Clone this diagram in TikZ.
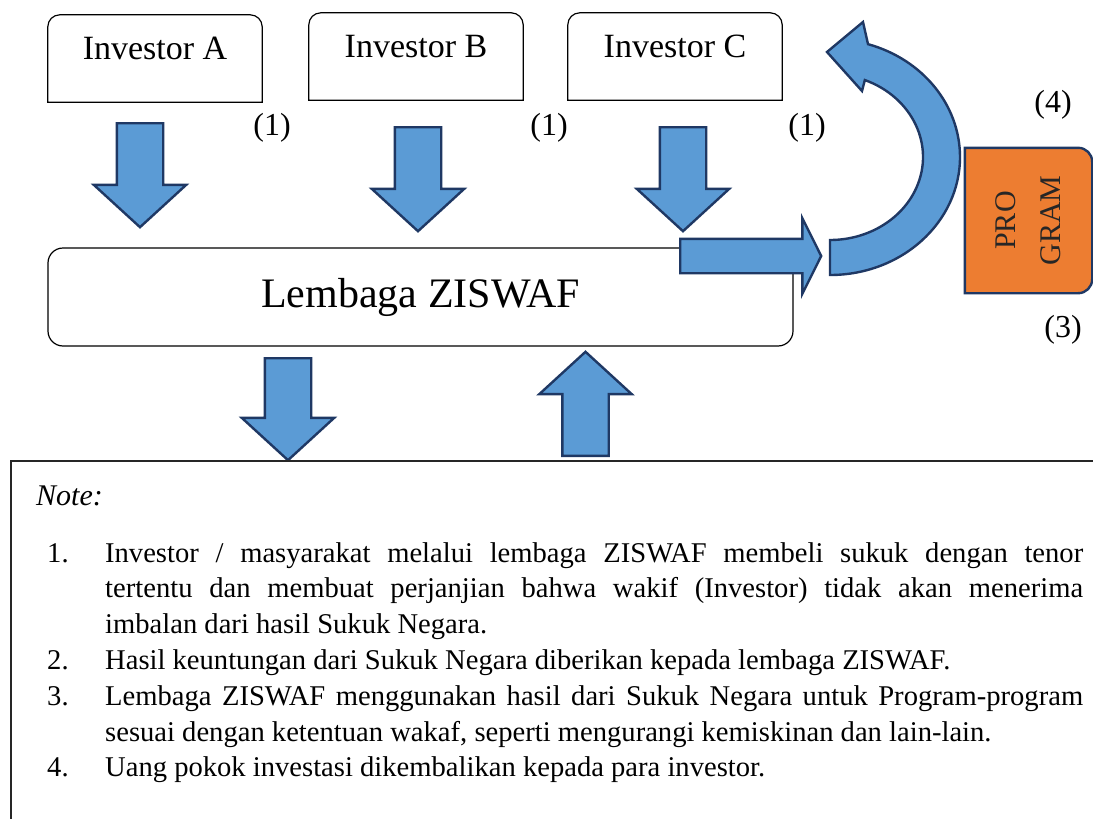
\documentclass[tikz,border=0pt]{standalone}
\usepackage{fontspec}
\setmainfont{Liberation Serif}
\usetikzlibrary{shapes.arrows,positioning}

\definecolor{arrowblue}{HTML}{5B9BD5}
\definecolor{arrowline}{HTML}{1F3864}
\definecolor{progorange}{HTML}{ED7D31}

\newcommand{\noteitem}[2]{\hangindent=58pt\hangafter=1\noindent\makebox[58pt][l]{#1}\ignorespaces#2}

\tikzset{
  invbox/.style={minimum width=214pt, minimum height=87pt, inner sep=0pt},
  boxline/.style={line width=1.2pt, draw=black},
  invlabel/.style={anchor=base, inner sep=0pt, font=\fontsize{34}{40}\selectfont},
  mainbox/.style={draw, line width=1.2pt, rounded corners=15pt, minimum width=745pt, minimum height=98pt, inner sep=0pt, font=\fontsize{42}{48}\selectfont},
  num/.style={inner sep=0pt, font=\fontsize{32}{38}\selectfont},
  blockarrow/.style={single arrow, draw=arrowline, fill=arrowblue, line width=2.4pt, inner sep=0pt, minimum width=0pt, anchor=tail},
  downarrow/.style={blockarrow, shape border rotate=270, inner xsep=22pt, inner ysep=0pt, single arrow head extend=23pt, single arrow tip angle=95, minimum height=104pt},
  uparrow/.style={downarrow, shape border rotate=90},
  rightarrow/.style={blockarrow, shape border rotate=0, inner ysep=16pt, inner xsep=0pt, single arrow head extend=20.5pt, single arrow tip angle=127, minimum height=141pt},
  bendline/.style={draw=arrowline, fill=arrowblue, line width=2.4pt, line join=miter},
  progbox/.style={minimum width=127pt, minimum height=145pt, inner sep=0pt},
  progline/.style={draw=arrowline, fill=progorange, line width=2.4pt},
  progtext/.style={rotate=90, align=center, inner sep=0pt, text=black!85, font=\fontsize{30}{45}\selectfont},
  noteline/.style={line width=1.6pt, draw=black!85},
  notehead/.style={anchor=base west, inner sep=0pt, font=\itshape\fontsize{30}{36}\selectfont},
  notetext/.style={anchor=base west, inner sep=0pt, text width=1036pt, align=justify, font=\fontsize{28.6}{35.8}\selectfont}
}

\begin{document}
\begin{tikzpicture}[x=1pt,y=1pt]
\useasboundingbox (0,0) rectangle (1093,-819);

% Investors
\node[invbox] (invA) at (155,-58.5) {};
\node[invbox] (invB) at (416,-56.5) {};
\node[invbox] (invC) at (675,-56.5) {};
\foreach \n/\t in {A/Investor A,B/Investor B,C/Investor C}{
  \draw[boxline] (inv\n.south west) -- ([yshift=-12pt]inv\n.north west)
    arc[start angle=180, end angle=90, radius=12pt] -- ([xshift=-12pt]inv\n.north east)
    arc[start angle=90, end angle=0, radius=12pt] -- (inv\n.south east) -- cycle;
  \node[invlabel] (lab\n) at ([yshift=-45pt]inv\n.north) {\t};
}
\node[num] (stepA) at (272,-128) {(1)};
\node[num] (stepB) at (549,-128) {(1)};
\node[num] (stepC) at (807,-128) {(1)};

% Investments into the institution
\node[downarrow] (inA) at (140,-122) {};
\node[downarrow] (inB) at (418,-126) {};
\node[downarrow] (inC) at (683,-126) {};

% Lembaga ZISWAF
\node[mainbox] (lembaga) at (420.5,-297) {Lembaga ZISWAF};

% Sukuk Negara out and back
\node[downarrow, minimum height=102pt] (outSukuk) at (288,-357) {};
\node[uparrow] (backSukuk) at (585.5,-457) {};

% To the program and back to the investors
\node[rightarrow] (toProg) at (679,-256) {};
\coordinate (turn) at (830,-157);
\draw[bendline] ([yshift=-118pt]turn)
  arc[start angle=-90, end angle=73, x radius=130pt, y radius=118pt]
  -- (863,-22) -- (827,-52) -- (862,-91)
  -- ([shift={(68:93pt and 83pt)}]turn)
  arc[start angle=68, end angle=-90, x radius=93pt, y radius=83pt] -- cycle;

% Program
\node[progbox] (prog) at (1028.5,-220.5) {};
\draw[progline] (prog.south west) -- (prog.north west) -- ([xshift=-14pt]prog.north east)
  arc[start angle=90, end angle=0, radius=14pt] -- ([yshift=14pt]prog.south east)
  arc[start angle=0, end angle=-90, radius=14pt] -- cycle;
\node[progtext] (progtxt) at (prog.center) {PRO\\GRAM};
\node[num] (stepFour) at (1053,-105) {(4)};
\node[num] (stepThree) at (1063,-330) {(3)};

% Note
\draw[noteline] (11,-830) -- (11,-461) -- (1100,-461);
\node[notehead] (notehead) at (36,-505) {Note:};
\node[notetext] (notes) at (47,-562) {\parskip=0pt\hyphenpenalty=10000\exhyphenpenalty=10000%
  \noteitem{1.}{Investor / masyarakat melalui lembaga ZISWAF membeli sukuk dengan tenor\linebreak
    tertentu dan membuat perjanjian bahwa wakif (Investor) tidak akan menerima\linebreak
    imbalan dari hasil Sukuk Negara.}\par
  \noteitem{2.}{Hasil keuntungan dari Sukuk Negara diberikan kepada lembaga ZISWAF.}\par
  \noteitem{3.}{Lembaga ZISWAF menggunakan hasil dari Sukuk Negara untuk Program-program\linebreak
    sesuai dengan ketentuan wakaf, seperti mengurangi kemiskinan dan lain-lain.}\par
  \noteitem{4.}{Uang pokok investasi dikembalikan kepada para investor.}};
\end{tikzpicture}
\end{document}
